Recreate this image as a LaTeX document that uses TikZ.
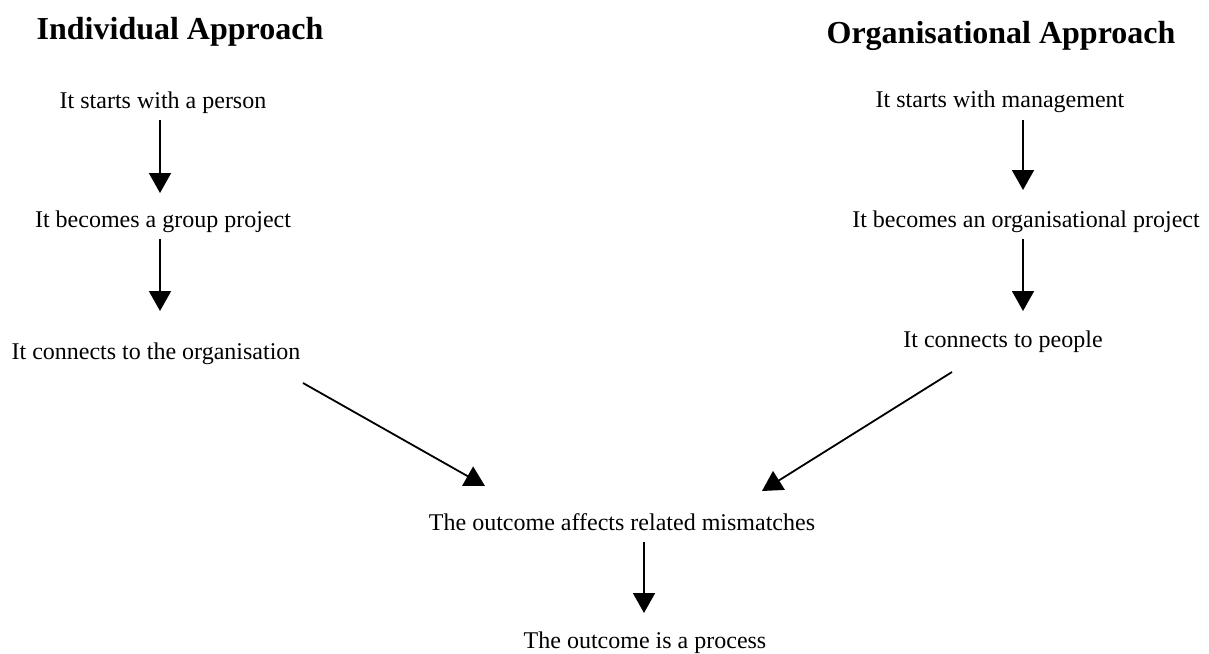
\documentclass[tikz,border=0pt]{standalone}
\usepackage{fontspec}
\setmainfont{Liberation Serif}
\usetikzlibrary{arrows.meta}
\tikzset{
  txt/.style={anchor=base, inner sep=0pt, font=\fontsize{24}{28}\selectfont},
  ttl/.style={anchor=base, inner sep=0pt, font=\bfseries\fontsize{32}{38}\selectfont},
  arr/.style={line width=1.8pt, -{Triangle[width=22pt,length=20pt]}}
}
\begin{document}
\begin{tikzpicture}[x=1pt,y=-1pt]
\useasboundingbox (0,0) rectangle (1209,653);
\node[ttl] (tL) at (180,39) {Individual Approach};
\node[ttl] (tR) at (1001,43) {Organisational Approach};
\node[txt] (l1) at (163,108) {It starts with a person};
\node[txt] (l2) at (163,227) {It becomes a group project};
\node[txt] (l3) at (156,359) {It connects to the organisation};
\node[txt] (r1) at (1000,107) {It starts with management};
\node[txt] (r2) at (1026,227) {It becomes an organisational project};
\node[txt] (r3) at (1003,347) {It connects to people};
\node[txt] (m1) at (622,530) {The outcome affects related mismatches};
\node[txt] (m2) at (645,648) {The outcome is a process};
\draw[arr] ([xshift=-3pt,yshift=-12pt]l1.base) -- ([xshift=-3pt,yshift=34pt]l2.base);
\draw[arr] ([xshift=-3pt,yshift=-12pt]l2.base) -- ([xshift=4pt,yshift=48pt]l3.base);
\draw[arr] ([xshift=23pt,yshift=-13pt]r1.base) -- ([xshift=-3pt,yshift=37pt]r2.base);
\draw[arr] ([xshift=-3pt,yshift=-12pt]r2.base) -- ([xshift=20pt,yshift=36pt]r3.base);
\draw[arr] ([xshift=147pt,yshift=-24pt]l3.base) -- ([xshift=-137pt,yshift=44pt]m1.base);
\draw[arr] ([xshift=-51pt,yshift=-25pt]r3.base) -- ([xshift=140pt,yshift=39pt]m1.base);
\draw[arr] ([xshift=22pt,yshift=-12pt]m1.base) -- ([xshift=-1pt,yshift=35pt]m2.base);
\end{tikzpicture}
\end{document}
